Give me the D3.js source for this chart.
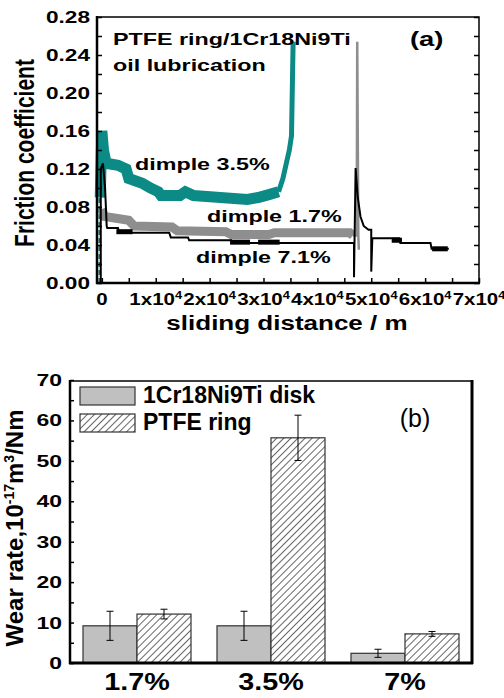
<!DOCTYPE html>
<html>
<head>
<meta charset="utf-8">
<script src="https://cdnjs.cloudflare.com/ajax/libs/d3/7.8.5/d3.min.js"></script>
<style>
body { margin: 0; background: #fff; }
text { font-family: "Liberation Sans", Arial, sans-serif; }
</style>
</head>
<body>
<svg id="chart" width="504" height="698"></svg>
<script>

// ---- panel (a): friction coefficient vs sliding distance (x in 10^4 m) ----
const aXTicks = [0, 1, 2, 3, 4, 5, 6, 7];
const aYTicks = [0, 0.04, 0.08, 0.12, 0.16, 0.20, 0.24, 0.28];

const teal35Dash = [[-0.04, 0.0], [-0.04, 0.09]];
const teal35 = [[-0.03, 0.09], [0.0, 0.16], [0.03, 0.14], [0.08, 0.126], [0.3, 0.124], [0.45, 0.12],
    [0.5, 0.11], [0.75, 0.105], [0.9, 0.10], [1.05, 0.096], [1.1, 0.092], [1.45, 0.092], [1.55, 0.096],
    [1.7, 0.092], [2.2, 0.09], [2.7, 0.088], [2.9, 0.09], [3.1, 0.093], [3.28, 0.096]];
const teal35Rise = [[3.28, 0.096], [3.36, 0.11], [3.42, 0.125], [3.48, 0.14], [3.52, 0.155], [3.55, 0.254]];

const gray17 = [[0.0, 0.078], [0.05, 0.07], [0.5, 0.066], [0.6, 0.06], [1.3, 0.059], [1.4, 0.055],
    [2.3, 0.054], [2.4, 0.051], [3.1, 0.051], [3.2, 0.053], [4.6, 0.053], [4.66, 0.05]];
const gray17Spike = [[4.66, 0.05], [4.73, 0.05], [4.74, 0.254], [4.76, 0.05], [4.77, 0.035]];

const black71 = [[-0.02, 0.0], [-0.02, 0.12], [0.02, 0.126], [0.06, 0.1], [0.09, 0.06], [0.1, 0.058],
    [0.3, 0.058], [0.32, 0.053], [1.25, 0.053], [1.28, 0.048], [1.6, 0.048], [1.62, 0.045],
    [2.4, 0.045], [2.42, 0.042], [4.68, 0.042], [4.68, 0.006], [4.71, 0.121], [4.75, 0.09],
    [4.8, 0.07], [4.86, 0.06], [4.95, 0.056], [5.0, 0.056], [5.0, 0.012], [5.02, 0.047],
    [5.52, 0.047], [5.54, 0.042], [6.1, 0.042], [6.12, 0.036], [6.44, 0.036]];
// noisy (thick) stretches of the black trace: [from, to, value]
const black71Thick = [[0.27, 0.57, 0.054], [2.38, 2.75, 0.043], [2.9, 3.3, 0.043], [5.38, 5.57, 0.045], [6.13, 6.42, 0.036]];

// ---- panel (b): wear rate ----
const samples = ['1.7%', '3.5%', '7%'];
const wearSeries = ['1Cr18Ni9Ti disk', 'PTFE ring'];
const diskWear = [9.2, 9.2, 2.4];
const diskErr = [3.6, 3.6, 1.0];
const ringWear = [12.1, 55.7, 7.2];
const ringErr = [1.2, 5.6, 0.6];
const bYTicks = [0, 10, 20, 30, 40, 50, 60, 70];

const svg = d3.select('#chart');

// stretch text horizontally like the scanned figure
function widen(sel, k) {
    sel.each(function() {
        const w = this.getComputedTextLength();
        d3.select(this).attr('textLength', w * k).attr('lengthAdjust', 'spacingAndGlyphs');
    });
}

// ================= panel (a) =================
const ax = d3.scaleLinear().domain([-0.09, 7]).range([97, 479]);
const ay = d3.scaleLinear().domain([0, 0.28]).range([283, 17]);
const ga = svg.append('g').attr('id', 'panelA');

const line = d3.line().x(function(d) { return ax(d[0]); }).y(function(d) { return ay(d[1]); });

ga.append('path').datum(teal35Dash).attr('d', line)
    .attr('fill', 'none').attr('stroke', '#0b8a86').attr('stroke-width', 2.5).attr('stroke-dasharray', '5,3');
ga.append('path').datum(teal35).attr('d', line)
    .attr('fill', 'none').attr('stroke', '#0b8a86').attr('stroke-width', 11).attr('stroke-linejoin', 'miter');
ga.append('path').datum(teal35Rise).attr('d', line)
    .attr('fill', 'none').attr('stroke', '#0b8a86').attr('stroke-width', 5);

ga.append('path').datum(gray17).attr('d', line)
    .attr('fill', 'none').attr('stroke', '#8e8e8e').attr('stroke-width', 9);
ga.append('path').datum(gray17Spike).attr('d', line)
    .attr('fill', 'none').attr('stroke', '#8e8e8e').attr('stroke-width', 2.5);

ga.append('path').datum(black71).attr('d', line)
    .attr('fill', 'none').attr('stroke', '#000').attr('stroke-width', 2);
ga.selectAll('rect.thick').data(black71Thick).enter().append('rect')
    .attr('class', 'thick')
    .attr('x', function(d) { return ax(d[0]); })
    .attr('width', function(d) { return ax(d[1]) - ax(d[0]); })
    .attr('y', function(d) { return ay(d[2]) - 2.5; })
    .attr('height', 5)
    .attr('fill', '#000');

// frame
ga.append('rect').attr('x', 97).attr('y', 17).attr('width', 382).attr('height', 266)
    .attr('fill', 'none').attr('stroke', '#000').attr('stroke-width', 1.5);
ga.append('line').attr('x1', 97).attr('x2', 97).attr('y1', 16).attr('y2', 284).attr('stroke', '#000').attr('stroke-width', 2.5);
ga.append('line').attr('x1', 96).attr('x2', 480).attr('y1', 283).attr('y2', 283).attr('stroke', '#000').attr('stroke-width', 2.5);

// axes (ticks inward)
const aYAxis = ga.append('g').attr('transform', 'translate(97,0)')
    .call(d3.axisRight(ay).tickValues(d3.range(0, 0.281, 0.02)).tickSize(5).tickFormat(''));
const aYAxisR = ga.append('g').attr('transform', 'translate(479,0)')
    .call(d3.axisLeft(ay).tickValues(d3.range(0, 0.281, 0.02)).tickSize(5).tickFormat(''));
const aXAxis = ga.append('g').attr('transform', 'translate(0,283)')
    .call(d3.axisTop(ax).tickValues(d3.range(0, 7.01, 0.5)).tickSize(5).tickFormat(''));
[aYAxis, aYAxisR, aXAxis].forEach(function(g) {
    g.select('.domain').remove();
    g.selectAll('line').attr('stroke-width', 1.5);
});

// tick labels
const aYLab = ga.selectAll('text.ylab').data(aYTicks).enter().append('text')
    .attr('class', 'ylab')
    .attr('x', 90).attr('y', function(d) { return ay(d) + 6; })
    .attr('text-anchor', 'end').attr('font-size', 17).attr('font-weight', 'bold')
    .text(function(d) { return d3.format('.2f')(d); });
widen(aYLab, 1.33);

const aXLab = ga.selectAll('text.xlab').data(aXTicks).enter().append('text')
    .attr('class', 'xlab')
    .attr('x', function(d) { return ax(d); }).attr('y', 305)
    .attr('text-anchor', 'middle').attr('font-size', 16).attr('font-weight', 'bold');
aXLab.each(function(d) {
    const t = d3.select(this);
    if (d === 0) { t.text('0'); return; }
    t.append('tspan').text(d + 'x10');
    t.append('tspan').attr('dy', -6).attr('font-size', 10).text('4');
});
widen(aXLab, 1.28);

// axis titles
widen(ga.append('text').attr('x', 287).attr('y', 330).attr('text-anchor', 'middle')
    .attr('font-size', 20).attr('font-weight', 'bold').text('sliding distance / m'), 1.3);
ga.append('text').attr('transform', 'translate(34,153) scale(1.3,1) rotate(-90)')
    .attr('text-anchor', 'middle').attr('font-size', 21).attr('font-weight', 'bold')
    .text('Friction coefficient');

// annotations
const aNotes = [
    {t: 'PTFE ring/1Cr18Ni9Ti', x: 113, y: 45, s: 17},
    {t: 'oil lubrication', x: 113, y: 71, s: 17},
    {t: '(a)', x: 410, y: 46, s: 20},
    {t: 'dimple 3.5%', x: 135, y: 170, s: 17},
    {t: 'dimple 1.7%', x: 207, y: 222, s: 17},
    {t: 'dimple 7.1%', x: 196, y: 263, s: 17}
];
widen(ga.selectAll('text.note').data(aNotes).enter().append('text')
    .attr('class', 'note')
    .attr('x', function(d) { return d.x; }).attr('y', function(d) { return d.y; })
    .attr('font-size', function(d) { return d.s; }).attr('font-weight', 'bold')
    .text(function(d) { return d.t; }), 1.37);

// ================= panel (b) =================
const bx = d3.scaleBand().domain(samples).range([70, 472]);
const bSub = d3.scaleBand().domain(wearSeries).range([13, 121]);
const by = d3.scaleLinear().domain([0, 70]).range([663, 380]);
const gb = svg.append('g').attr('id', 'panelB');

const defs = svg.append('defs');
const pat = defs.append('pattern').attr('id', 'hatch').attr('patternUnits', 'userSpaceOnUse')
    .attr('width', 5).attr('height', 5).attr('patternTransform', 'rotate(45)');
pat.append('rect').attr('width', 5).attr('height', 5).attr('fill', '#fff');
pat.append('line').attr('x1', 0).attr('y1', -1).attr('x2', 0).attr('y2', 6)
    .attr('stroke', '#000').attr('stroke-width', 1.2);

const fills = {'1Cr18Ni9Ti disk': '#c0c0c0', 'PTFE ring': 'url(#hatch)'};

const rows = [];
samples.forEach(function(s, i) {
    rows.push({s: s, k: wearSeries[0], v: diskWear[i], e: diskErr[i]});
    rows.push({s: s, k: wearSeries[1], v: ringWear[i], e: ringErr[i]});
});

gb.selectAll('rect.bar').data(rows).enter().append('rect')
    .attr('class', 'bar')
    .attr('x', function(d) { return bx(d.s) + bSub(d.k); })
    .attr('width', bSub.bandwidth())
    .attr('y', function(d) { return by(d.v); })
    .attr('height', function(d) { return by(0) - by(d.v); })
    .attr('fill', function(d) { return fills[d.k]; })
    .attr('stroke', '#333').attr('stroke-width', 1.2);

// error bars
const eb = gb.selectAll('g.err').data(rows).enter().append('g').attr('class', 'err')
    .attr('transform', function(d) { return 'translate(' + (bx(d.s) + bSub(d.k) + bSub.bandwidth() / 2) + ',0)'; });
eb.append('line').attr('y1', function(d) { return by(d.v - d.e); }).attr('y2', function(d) { return by(d.v + d.e); })
    .attr('stroke', '#000').attr('stroke-width', 1);
eb.selectAll('line.cap').data(function(d) { return [d.v - d.e, d.v + d.e]; }).enter().append('line')
    .attr('class', 'cap').attr('x1', -3.5).attr('x2', 3.5)
    .attr('y1', function(d) { return by(d); }).attr('y2', function(d) { return by(d); })
    .attr('stroke', '#000').attr('stroke-width', 1);

// frame
gb.append('line').attr('x1', 70).attr('x2', 472).attr('y1', 381).attr('y2', 381).attr('stroke', '#000').attr('stroke-width', 1.5);
gb.append('line').attr('x1', 472).attr('x2', 472).attr('y1', 380).attr('y2', 664).attr('stroke', '#000').attr('stroke-width', 3);
gb.append('line').attr('x1', 70).attr('x2', 70).attr('y1', 380).attr('y2', 664).attr('stroke', '#000').attr('stroke-width', 2.5);
gb.append('line').attr('x1', 69).attr('x2', 473).attr('y1', 663).attr('y2', 663).attr('stroke', '#000').attr('stroke-width', 3);

const bYAxis = gb.append('g').attr('transform', 'translate(70,0)')
    .call(d3.axisRight(by).tickValues(d3.range(0, 71, 5)).tickSize(4).tickFormat(''));
bYAxis.select('.domain').remove();
bYAxis.selectAll('line').attr('stroke-width', 1.5);

widen(gb.selectAll('text.ylab').data(bYTicks).enter().append('text')
    .attr('class', 'ylab')
    .attr('x', 62).attr('y', function(d) { return by(d) + 6; })
    .attr('text-anchor', 'end').attr('font-size', 17).attr('font-weight', 'bold')
    .text(function(d) { return d; }), 1.35);

widen(gb.selectAll('text.xlab').data(samples).enter().append('text')
    .attr('class', 'xlab')
    .attr('x', function(d) { return bx(d) + bx.bandwidth() / 2; }).attr('y', 690)
    .attr('text-anchor', 'middle').attr('font-size', 23).attr('font-weight', 'bold')
    .text(function(d) { return d; }), 1.25);

// y title with superscripts
const bTitle = gb.append('text').attr('transform', 'translate(23,528) rotate(-90)')
    .attr('text-anchor', 'middle').attr('font-size', 24).attr('font-weight', 'bold');
bTitle.append('tspan').text('Wear rate,10');
bTitle.append('tspan').attr('dy', -9).attr('font-size', 14).text('-17');
bTitle.append('tspan').attr('dy', 9).text('m');
bTitle.append('tspan').attr('dy', -9).attr('font-size', 14).text('3');
bTitle.append('tspan').attr('dy', 9).text('/Nm');

// legend
const leg = gb.selectAll('g.leg').data(wearSeries).enter().append('g').attr('class', 'leg')
    .attr('transform', function(d, i) { return 'translate(80,' + (387 + i * 27) + ')'; });
leg.append('rect').attr('width', 55).attr('height', 18)
    .attr('fill', function(d) { return fills[d]; }).attr('stroke', '#333').attr('stroke-width', 1.2);
leg.append('text').attr('x', 63).attr('y', 16).attr('font-size', 23).attr('font-weight', 'bold')
    .text(function(d) { return d; });

gb.append('text').attr('x', 415).attr('y', 427).attr('text-anchor', 'middle')
    .attr('font-size', 25).text('(b)');

</script>
</body>
</html>
